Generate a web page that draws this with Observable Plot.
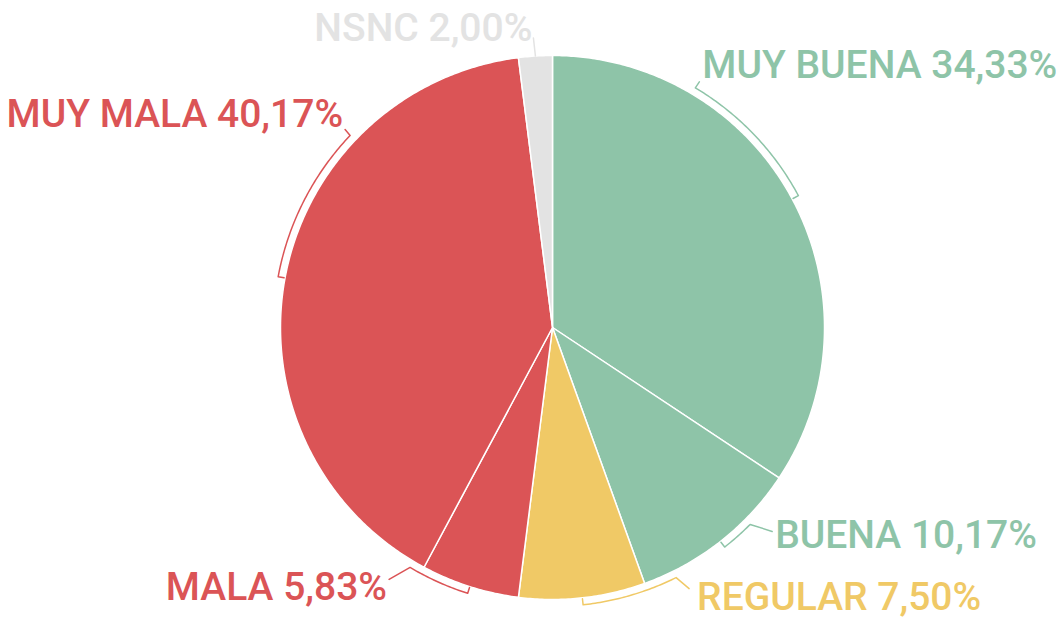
<!DOCTYPE html>
<html>
<head>
<meta charset="utf-8">
<script src="https://cdn.jsdelivr.net/npm/d3@7"></script>
<script src="https://cdn.jsdelivr.net/npm/@observablehq/plot@0.6"></script>
<style>
  html, body { margin: 0; padding: 0; background: #ffffff; }
  #chart { width: 1058px; height: 620px; }
</style>
</head>
<body>
<div id="chart"></div>
<script>
// ---- data ----
const categories = ["MUY BUENA", "BUENA", "REGULAR", "MALA", "MUY MALA", "NSNC"];
const values = [34.33, 10.17, 7.50, 5.83, 40.17, 2.00];
const colors = ["#8ec4a8", "#8ec4a8", "#f0c966", "#db5456", "#db5456", "#e3e3e3"];

// ---- layout (styling / label placement) ----
const radius = 272;
const bracketRadius = 279;
const tickRadius = 273;
const bracketSpan = [-31, -7, -20, 13, 33, null];           // degrees from slice middle
const leaderOffset = [[4, -6], [22, 7], [13, 11], [-21, 12], [-5, -6], [-2, -18]];
const textOffset = [[7, -10], [25, 24], [21, 32], [-23, 33], [-7, -8], [-3, -15]];
const textAnchor = ["start", "start", "start", "end", "end", "end"];

const rad = d => d * Math.PI / 180;
const pt = (a, r) => [r * Math.sin(a), -r * Math.cos(a)];

const arcs = d3.pie().sort(null).value(d => d)(values);

// slices as closed polygons
const slicePts = [];
arcs.forEach((a, i) => {
  slicePts.push({cat: categories[i], color: colors[i], x: 0, y: 0});
  const n = Math.max(2, Math.ceil((a.endAngle - a.startAngle) / rad(0.5)));
  for (let k = 0; k <= n; k++) {
    const ang = a.startAngle + (a.endAngle - a.startAngle) * k / n;
    const [x, y] = pt(ang, radius);
    slicePts.push({cat: categories[i], color: colors[i], x, y});
  }
});

// brackets + leaders
const bracketPts = [];
const labelRows = [];
arcs.forEach((a, i) => {
  const mid = (a.startAngle + a.endAngle) / 2;
  let end;
  if (bracketSpan[i] == null) {
    const [x, y] = pt(mid, radius);
    bracketPts.push({cat: categories[i], color: colors[i], x, y});
    end = [x, y];
  } else {
    const [tx, ty] = pt(mid, tickRadius);
    bracketPts.push({cat: categories[i], color: colors[i], x: tx, y: ty});
    const span = rad(bracketSpan[i]);
    const n = Math.max(2, Math.ceil(Math.abs(span) / rad(0.5)));
    for (let k = 0; k <= n; k++) {
      const [x, y] = pt(mid + span * k / n, bracketRadius);
      bracketPts.push({cat: categories[i], color: colors[i], x, y});
    }
    end = pt(mid + span, bracketRadius);
  }
  bracketPts.push({cat: categories[i], color: colors[i],
    x: end[0] + leaderOffset[i][0], y: end[1] + leaderOffset[i][1]});
  labelRows.push({
    text: categories[i] + " " + values[i].toFixed(2).replace(".", ",") + "%",
    color: colors[i],
    anchor: textAnchor[i],
    x: end[0] + textOffset[i][0],
    y: end[1] + textOffset[i][1]
  });
});

const textStyle = {
  x: "x", y: "y", text: "text", fill: "color",
  fontSize: 39, fontWeight: 500, fontFamily: "Roboto, sans-serif",
  lineAnchor: "bottom"
};

const chart = Plot.plot({
  width: 1058,
  height: 620,
  margin: 0,
  style: {background: "#ffffff", overflow: "visible"},
  x: {domain: [-552, 506], range: [0, 1058], axis: null},
  y: {domain: [-327, 293], range: [0, 620], axis: null},
  color: {type: "identity"},
  marks: [
    Plot.line(slicePts, {x: "x", y: "y", z: "cat", fill: "color", stroke: "#ffffff",
      strokeWidth: 1.5, curve: "linear-closed", strokeLinejoin: "round"}),
    Plot.line(bracketPts, {x: "x", y: "y", z: "cat", stroke: "color", strokeWidth: 1.5}),
    Plot.text(labelRows.filter(d => d.anchor === "start"), {...textStyle, textAnchor: "start"}),
    Plot.text(labelRows.filter(d => d.anchor === "end"), {...textStyle, textAnchor: "end"})
  ]
});
document.getElementById("chart").appendChild(chart);
</script>
</body>
</html>
